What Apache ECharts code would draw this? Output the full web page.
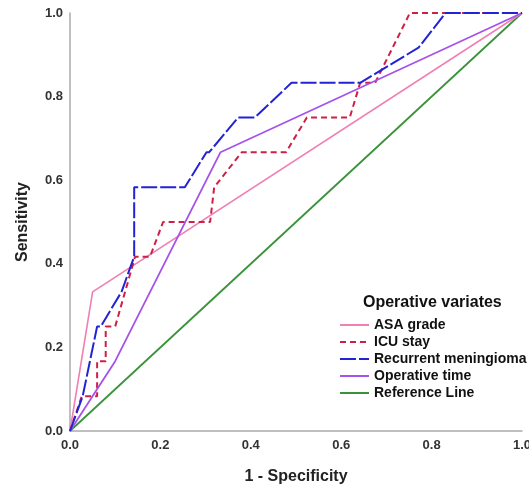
<!DOCTYPE html>
<html>
<head>
    <meta charset="utf-8">
    <title>ROC</title>
    <script src="https://cdn.jsdelivr.net/npm/echarts@6/dist/echarts.min.js"></script>
    <style>
        html, body { margin: 0; padding: 0; background: #fff; }
        #chart1 { width: 529px; height: 486px; }
    </style>
</head>
<body>
<div id="chart1"></div>
<script>
    // 刻度
    var tickValues = [0, 0.2, 0.4, 0.6, 0.8, 1.0];
    var seriesNames = ['ASA grade', 'ICU stay', 'Recurrent meningioma', 'Operative time', 'Reference Line'];

    // 每条曲线的点 [1-特异度, 灵敏度]
    var asaPoints = [[0, 0], [0.05, 0.333], [1, 1]];
    var icuPoints = [[0, 0], [0.026, 0.083], [0.06, 0.083], [0.06, 0.167], [0.079, 0.167], [0.079, 0.25],
        [0.1, 0.25], [0.144, 0.417], [0.177, 0.417], [0.206, 0.5], [0.31, 0.5], [0.319, 0.583],
        [0.38, 0.667], [0.478, 0.667], [0.524, 0.75], [0.619, 0.75], [0.642, 0.833], [0.675, 0.833],
        [0.752, 1], [1, 1]];
    var recurrentPoints = [[0, 0], [0.028, 0.083], [0.06, 0.25], [0.068, 0.25], [0.114, 0.333],
        [0.142, 0.417], [0.142, 0.583], [0.254, 0.583], [0.302, 0.667], [0.308, 0.667], [0.372, 0.75],
        [0.409, 0.75], [0.49, 0.833], [0.642, 0.833], [0.771, 0.917], [0.831, 1], [1, 1]];
    var opTimePoints = [[0, 0], [0.1, 0.167], [0.333, 0.667], [1, 1]];
    var refPoints = [[0, 0], [1, 1]];

    var myChart1 = echarts.init(document.getElementById('chart1'));

    var axisText = { color: '#333', fontFamily: 'Liberation Sans', fontWeight: 'bold', fontSize: 13 };
    var nameText = { color: '#222', fontFamily: 'Liberation Sans', fontWeight: 'bold', fontSize: 16 };

    function fmt(v) { return v.toFixed(1); }

    myChart1.setOption({
        animation: false,
        title: {
            text: 'Operative variates',
            left: 358, top: 290,
            textStyle: { fontFamily: 'Liberation Sans', fontWeight: 'bold', fontSize: 16, color: '#111' }
        },
        legend: {
            data: seriesNames,
            orient: 'vertical',
            left: 334, top: 313,
            itemWidth: 29, itemHeight: 14, itemGap: 3,
            itemStyle: { opacity: 0 },
            textStyle: { fontFamily: 'Liberation Sans', fontWeight: 'bold', fontSize: 14, color: '#111' }
        },
        grid: { left: 70, right: 7, top: 13, bottom: 55, containLabel: false, outerBoundsMode: 'none' },
        xAxis: {
            type: 'value', min: 0, max: 1, interval: 0.2,
            name: '1 - Specificity', nameLocation: 'middle', nameGap: 38, nameTextStyle: nameText,
            axisLine: { lineStyle: { color: '#aaa', width: 1.5 } },
            axisTick: { show: false },
            splitLine: { show: false },
            axisLabel: Object.assign({ formatter: fmt, margin: 8 }, axisText)
        },
        yAxis: {
            type: 'value', min: 0, max: 1, interval: 0.2,
            name: 'Sensitivity', nameLocation: 'middle', nameGap: 39, nameTextStyle: nameText,
            axisLine: { show: true, lineStyle: { color: '#aaa', width: 1.5 } },
            axisTick: { show: false },
            splitLine: { show: false },
            axisLabel: Object.assign({ formatter: fmt, margin: 7 }, axisText)
        },
        series: [
            { name: 'ASA grade', type: 'line', symbol: 'none', data: asaPoints,
              lineStyle: { color: '#f07fb3', width: 1.6 }, itemStyle: { color: '#f07fb3' }, z: 2 },
            { name: 'ICU stay', type: 'line', symbol: 'none', data: icuPoints,
              lineStyle: { color: '#cf1f45', width: 2, type: [6, 4] }, itemStyle: { color: '#cf1f45' }, z: 3 },
            { name: 'Recurrent meningioma', type: 'line', symbol: 'none', data: recurrentPoints,
              lineStyle: { color: '#2323d6', width: 2, type: [16, 3] }, itemStyle: { color: '#2323d6' }, z: 4 },
            { name: 'Operative time', type: 'line', symbol: 'none', data: opTimePoints,
              lineStyle: { color: '#a552ec', width: 1.8 }, itemStyle: { color: '#a552ec' }, z: 3 },
            { name: 'Reference Line', type: 'line', symbol: 'none', data: refPoints,
              lineStyle: { color: '#3a933a', width: 1.8 }, itemStyle: { color: '#3a933a' }, z: 1 }
        ]
    });
</script>
</body>
</html>
